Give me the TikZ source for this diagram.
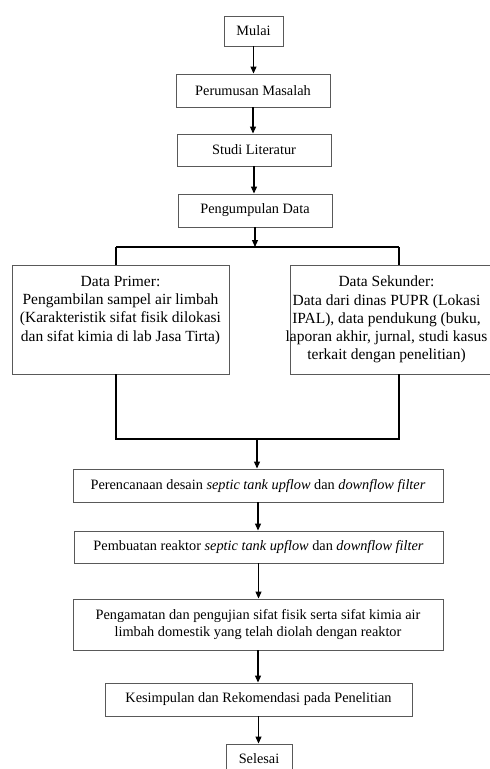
\documentclass[tikz,border=0pt]{standalone}
\usepackage{fontspec}
\setmainfont{Liberation Serif}
\usetikzlibrary{arrows.meta}
\begin{document}
\begin{tikzpicture}[x=1pt,y=-1pt,
  box/.style={draw=black!65,line width=0.9pt,rectangle,inner sep=0pt,
    font=\fontsize{14.3}{16.4}\selectfont,align=center},
  lbl/.style={inner sep=0pt,font=\fontsize{15.5}{18.2}\selectfont,align=center},
  arr/.style={line width=1.1pt,-{Triangle[length=7pt,width=6pt]}},
  ln/.style={line width=1.1pt}]
\useasboundingbox (0,0) rectangle (490,769);
\clip (0,0) rectangle (490,769);
\node[box,minimum width=59pt,minimum height=30pt] (mulai) at (253.5,31) {Mulai};
\node[box,minimum width=154pt,minimum height=33pt] (rumus) at (253,90.5) {Perumusan Masalah};
\node[box,minimum width=154pt,minimum height=32pt] (studi) at (254,150) {Studi Literatur};
\node[box,minimum width=154pt,minimum height=33pt] (kumpul) at (255,210.5) {Pengumpulan Data};
\coordinate (jl) at (116,247);
\coordinate (jr) at (399,247);
\node[box,minimum width=217pt,minimum height=109pt] (primer) at (120.5,319.5) {};
\node[lbl,anchor=north] (primert) at (120.5,276) {Data Primer:\\Pengambilan sampel air limbah\\(Karakteristik sifat fisik dilokasi\\dan sifat kimia di lab Jasa Tirta)};
\node[box,minimum width=220pt,minimum height=109pt] (sekunder) at (400,319.5) {};
\node[lbl,anchor=north] (sekundert) at (386.5,276) {Data Sekunder:\\Data dari dinas PUPR (Lokasi\\IPAL), data pendukung (buku,\\laporan akhir, jurnal, studi kasus\\terkait dengan penelitian)};
\coordinate (bl) at (116,439);
\coordinate (br) at (399,439);
\coordinate (bc) at (257,439);
\node[box,minimum width=370pt,minimum height=33pt] (rencana) at (258,485.5) {Perencanaan desain \textit{septic tank upflow} dan \textit{downflow filter}};
\node[box,minimum width=369pt,minimum height=32pt] (buat) at (258.5,547) {Pembuatan reaktor \textit{septic tank upflow} dan \textit{downflow filter}};
\node[box,minimum width=370pt,minimum height=51pt] (amat) at (258,624.5) {Pengamatan dan pengujian sifat fisik serta sifat kimia air\\limbah domestik yang telah diolah dengan reaktor};
\node[box,minimum width=307pt,minimum height=33pt] (simpul) at (258.5,699.5) {Kesimpulan dan Rekomendasi pada Penelitian};
\node[box,minimum width=66pt,minimum height=30pt] (selesai) at (259,759) {Selesai};
\draw[arr] (mulai.south) -- (mulai.south |- rumus.north);
\draw[arr] (rumus.south) -- (rumus.south |- studi.north);
\draw[arr] (studi.south) -- (studi.south |- kumpul.north);
\draw[arr] (kumpul.south) -- (kumpul.south |- jl);
\draw[ln] (jl) -- (jr);
\draw[ln] (jl) -- (jl |- primer.north);
\draw[ln] (jr) -- (jr |- sekunder.north);
\draw[ln] (bl |- primer.south) -- (bl) -- (br) -- (br |- sekunder.south);
\draw[arr] (bc) -- (bc |- rencana.north);
\draw[arr] (rencana.south) -- (rencana.south |- buat.north);
\draw[arr] (buat.south) -- (buat.south |- amat.north);
\draw[arr] (amat.south) -- (amat.south |- simpul.north);
\draw[arr] (simpul.south) -- (simpul.south |- selesai.north);
\end{tikzpicture}
\end{document}
